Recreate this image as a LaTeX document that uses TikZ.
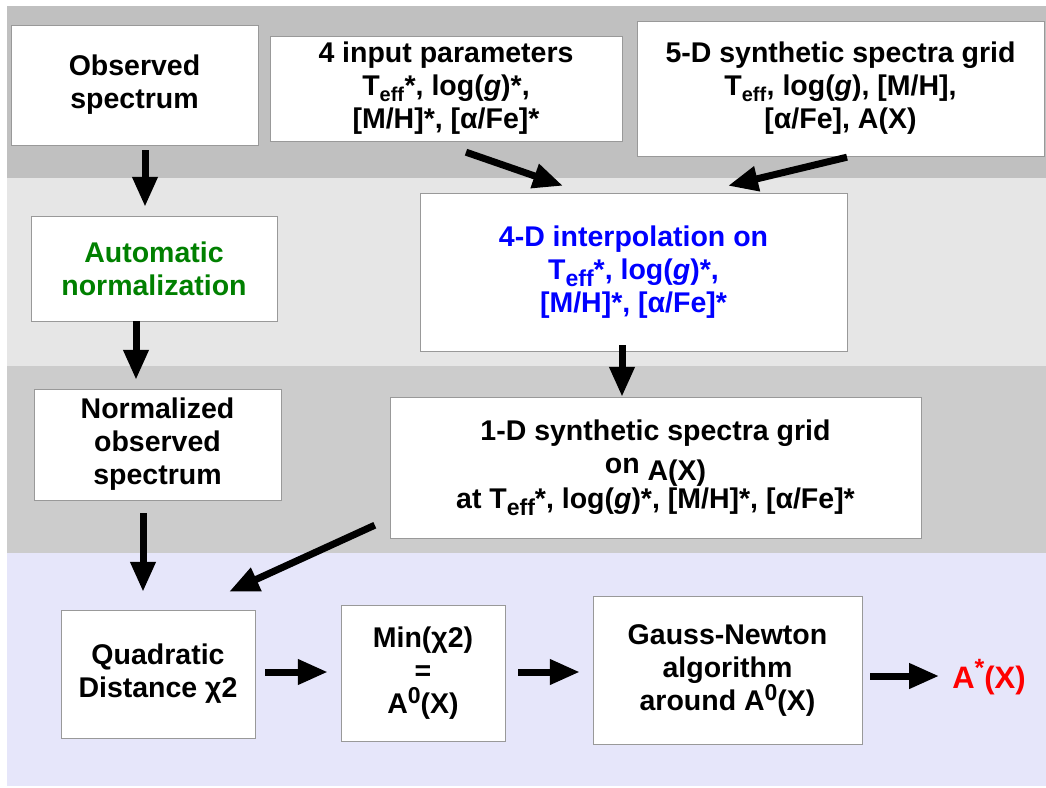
\documentclass[tikz,border=0pt]{standalone}
\usepackage{fontspec}
\setmainfont{Liberation Sans}
\usetikzlibrary{arrows.meta,calc}
\definecolor{bandtop}{HTML}{C0C0C0}
\definecolor{bandlight}{HTML}{E6E6E6}
\definecolor{bandmid}{HTML}{CCCCCC}
\definecolor{bandlav}{HTML}{E6E6FA}
\definecolor{boxgray}{HTML}{999999}
\definecolor{normgreen}{HTML}{008000}
\newcommand{\Teff}{T\textsubscript{eff}}
\newcommand{\Tefflow}{T\raisebox{-7pt}{\fontsize{23}{23}\selectfont eff}}
\newcommand{\gsl}{\textit{g}}
\newcommand{\supzero}{\raisebox{10pt}{\fontsize{23}{23}\selectfont 0}}
\newcommand{\supstar}{\raisebox{12pt}{\fontsize{25}{25}\selectfont *}}
\begin{document}
\begin{tikzpicture}[x=1pt,y=-1pt]

	\tikzstyle{mybox}=[draw=boxgray,
	fill=white,
	align=center,
	inner sep=0pt,
	font=\fontsize{28.5}{33}\selectfont\bfseries
	]
	\tikzstyle{myarrow}=[-{Triangle[length=30pt,width=24pt]}, line width=7pt]

	\useasboundingbox (0,0) rectangle (1046,787);
	\fill[white] (0,0) rectangle (1046,787);
	\fill[bandtop] (7,6) rectangle (1046,178);
	\fill[bandlight] (7,178) rectangle (1046,366);
	\fill[bandmid] (7,366) rectangle (1046,553);
	\fill[bandlav] (7,553) rectangle (1046,786);

	\coordinate (pobs) at (134.5,85);
	\coordinate (pinp) at (446,88.5);
	\coordinate (pgrid5) at (840.5,88.5);
	\coordinate (pnorm) at (154,268.5);
	\coordinate (pinterp) at (633.5,272);
	\coordinate (pnobs) at (157.5,444.5);
	\coordinate (pgrid1) at (655.5,467.5);
	\coordinate (pquad) at (158,674);
	\coordinate (pminc) at (423,673);
	\coordinate (pgn) at (727.5,670);
	\coordinate (pastar) at (989,677);

	\node[mybox, minimum width=247, minimum height=120] (obs) at (pobs) {Observed\\spectrum};
	\node[mybox, minimum width=352, minimum height=105] (inp) at (pinp) {4 input parameters\\\Teff*, log(\gsl)*,\\{}[M/H]*, [α/Fe]*};
	\node[mybox, minimum width=407, minimum height=135] (grid5) at (pgrid5) {5-D synthetic spectra grid\\\Teff, log(\gsl), [M/H],\\{}[α/Fe], A(X)};

	\node[mybox, minimum width=246, minimum height=105, text=normgreen] (norm) at (pnorm) {Automatic\\normalization};
	\node[mybox, minimum width=427, minimum height=158, text=blue] (interp) at (pinterp) {4-D interpolation on\\\Tefflow*, log(\gsl)*,\\{}[M/H]*, [α/Fe]*};

	\node[mybox, minimum width=247, minimum height=111] (nobs) at (pnobs) {Normalized\\observed\\spectrum};
	\node[mybox, minimum width=531, minimum height=141] (grid1) at (pgrid1) {1-D synthetic spectra grid\\on \raisebox{-7pt}{A(X)}\\at \Tefflow*, log(\gsl)*, [M/H]*, [α/Fe]*};

	\node[mybox, minimum width=194, minimum height=128] (quad) at (pquad) {Quadratic\\Distance χ2};
	\node[mybox, minimum width=164, minimum height=136] (minc) at (pminc) {Min(χ2)\\=\\A\supzero(X)};
	\node[mybox, minimum width=269, minimum height=148] (gn) at (pgn) {Gauss-Newton\\algorithm\\around A\supzero(X)};
	\node[inner sep=0pt, text=red, font=\fontsize{31}{35}\selectfont\bfseries] (astar) at (pastar) {A\supstar(X)};

	\draw[myarrow] ($(obs.south)+(10.5,5)$) -- ($(norm.north)+(-9,-9)$);
	\draw[myarrow] ($(norm.south)+(-18,0)$) -- ($(nobs.north)+(-21.5,-9)$);
	\draw[myarrow] ($(nobs.south)+(-14.5,13)$) -- ($(quad.north)+(-15,-18)$);

	\draw[myarrow] ($(inp.south)+(20,11)$) -- ($(interp.north)+(-70.5,-7)$);
	\draw[myarrow] ($(grid5.south)+(6.5,1)$) -- ($(interp.north)+(94.5,-7)$);
	\draw[myarrow] ($(interp.south)+(-11.5,-6)$) -- ($(grid1.north)+(-33.5,0)$);
	\draw[myarrow] ($(grid1.south west)+(-15,-13)$) -- ($(quad.north)+(71,-18)$);

	\draw[myarrow] ($(quad.east)+(10,-2)$) -- ($(minc.west)+(-13,-1)$);
	\draw[myarrow] ($(minc.east)+(13,-1)$) -- ($(gn.west)+(-13,2)$);
	\draw[myarrow] ($(gn.east)+(8,6)$) -- ($(astar.west)+(-13,-1)$);

\end{tikzpicture}
\end{document}
